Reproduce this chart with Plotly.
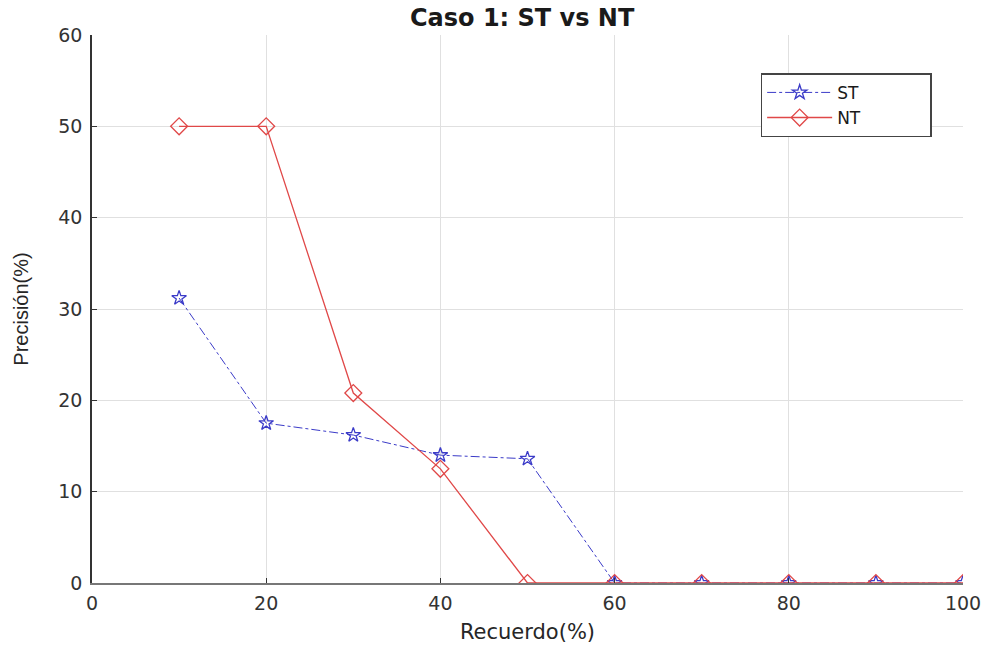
import plotly.graph_objects as go

recall = [10, 20, 30, 40, 50, 60, 70, 80, 90, 100]
st_precision = [31.2, 17.5, 16.2, 14.0, 13.6, 0, 0, 0, 0, 0]
nt_precision = [50, 50, 20.8, 12.5, 0, 0, 0, 0, 0, 0]
series_names = ["ST", "NT"]
x_ticks = [0, 20, 40, 60, 80, 100]
y_ticks = [0, 10, 20, 30, 40, 50, 60]

pad = "\u00a0" * 12  # right padding inside the legend box

fig = go.Figure()
fig.add_trace(go.Scatter(
    x=recall, y=st_precision, name=series_names[0] + pad, mode="lines+markers",
    line=dict(color="#3b3bc8", width=1, dash="dashdot"),
    marker=dict(symbol="star-open", size=11, color="#3b3bc8", line=dict(width=1.3)),
))
fig.add_trace(go.Scatter(
    x=recall, y=nt_precision, name=series_names[1] + pad, mode="lines+markers",
    line=dict(color="#e04848", width=1.3),
    marker=dict(symbol="diamond-open", size=13, color="#e04848", line=dict(width=1.3)),
))

wide = "DejaVu Sans, Verdana, sans-serif"
narrow = "Liberation Sans, Arial, sans-serif"
fig.update_layout(
    width=987, height=652,
    margin=dict(l=92, r=24, t=35, b=69, autoexpand=False),
    paper_bgcolor="white", plot_bgcolor="white",
    font=dict(family=wide, color="#262626", size=19),
    title=dict(text="<b>Caso 1: ST vs NT</b>", x=0.529, xanchor="center", y=0.973, yanchor="middle",
               font=dict(family=wide, size=24, color="#1a1a1a")),
    showlegend=True,
    legend=dict(x=0.964, xanchor="right", y=0.93, yanchor="top", bgcolor="white",
                bordercolor="#444", borderwidth=1.5, font=dict(family=wide, size=17, color="#1a1a1a"),
                itemwidth=65, tracegroupgap=0),
    xaxis=dict(range=[0, 100], tickvals=x_ticks, showgrid=True, gridcolor="#e0e0e0",
               showline=True, linecolor="#777", linewidth=2, ticks="inside", ticklen=5,
               tickcolor="#333", zeroline=False, ticklabelstandoff=2, automargin=False,
               tickfont=dict(family=wide, size=19, color="#333"),
               title=dict(text="Recuerdo(%)", font=dict(family=wide, size=21), standoff=12)),
    yaxis=dict(range=[0, 60], tickvals=y_ticks, showgrid=True, gridcolor="#e0e0e0",
               showline=True, linecolor="#333", linewidth=1.5, ticks="inside", ticklen=5,
               tickcolor="#333", zeroline=False, ticklabelstandoff=4, automargin=False,
               tickfont=dict(family=wide, size=19, color="#333"),
               title=dict(text="Precisión(%)", font=dict(family=narrow, size=20), standoff=24)),
)

fig.write_html("out.html")
